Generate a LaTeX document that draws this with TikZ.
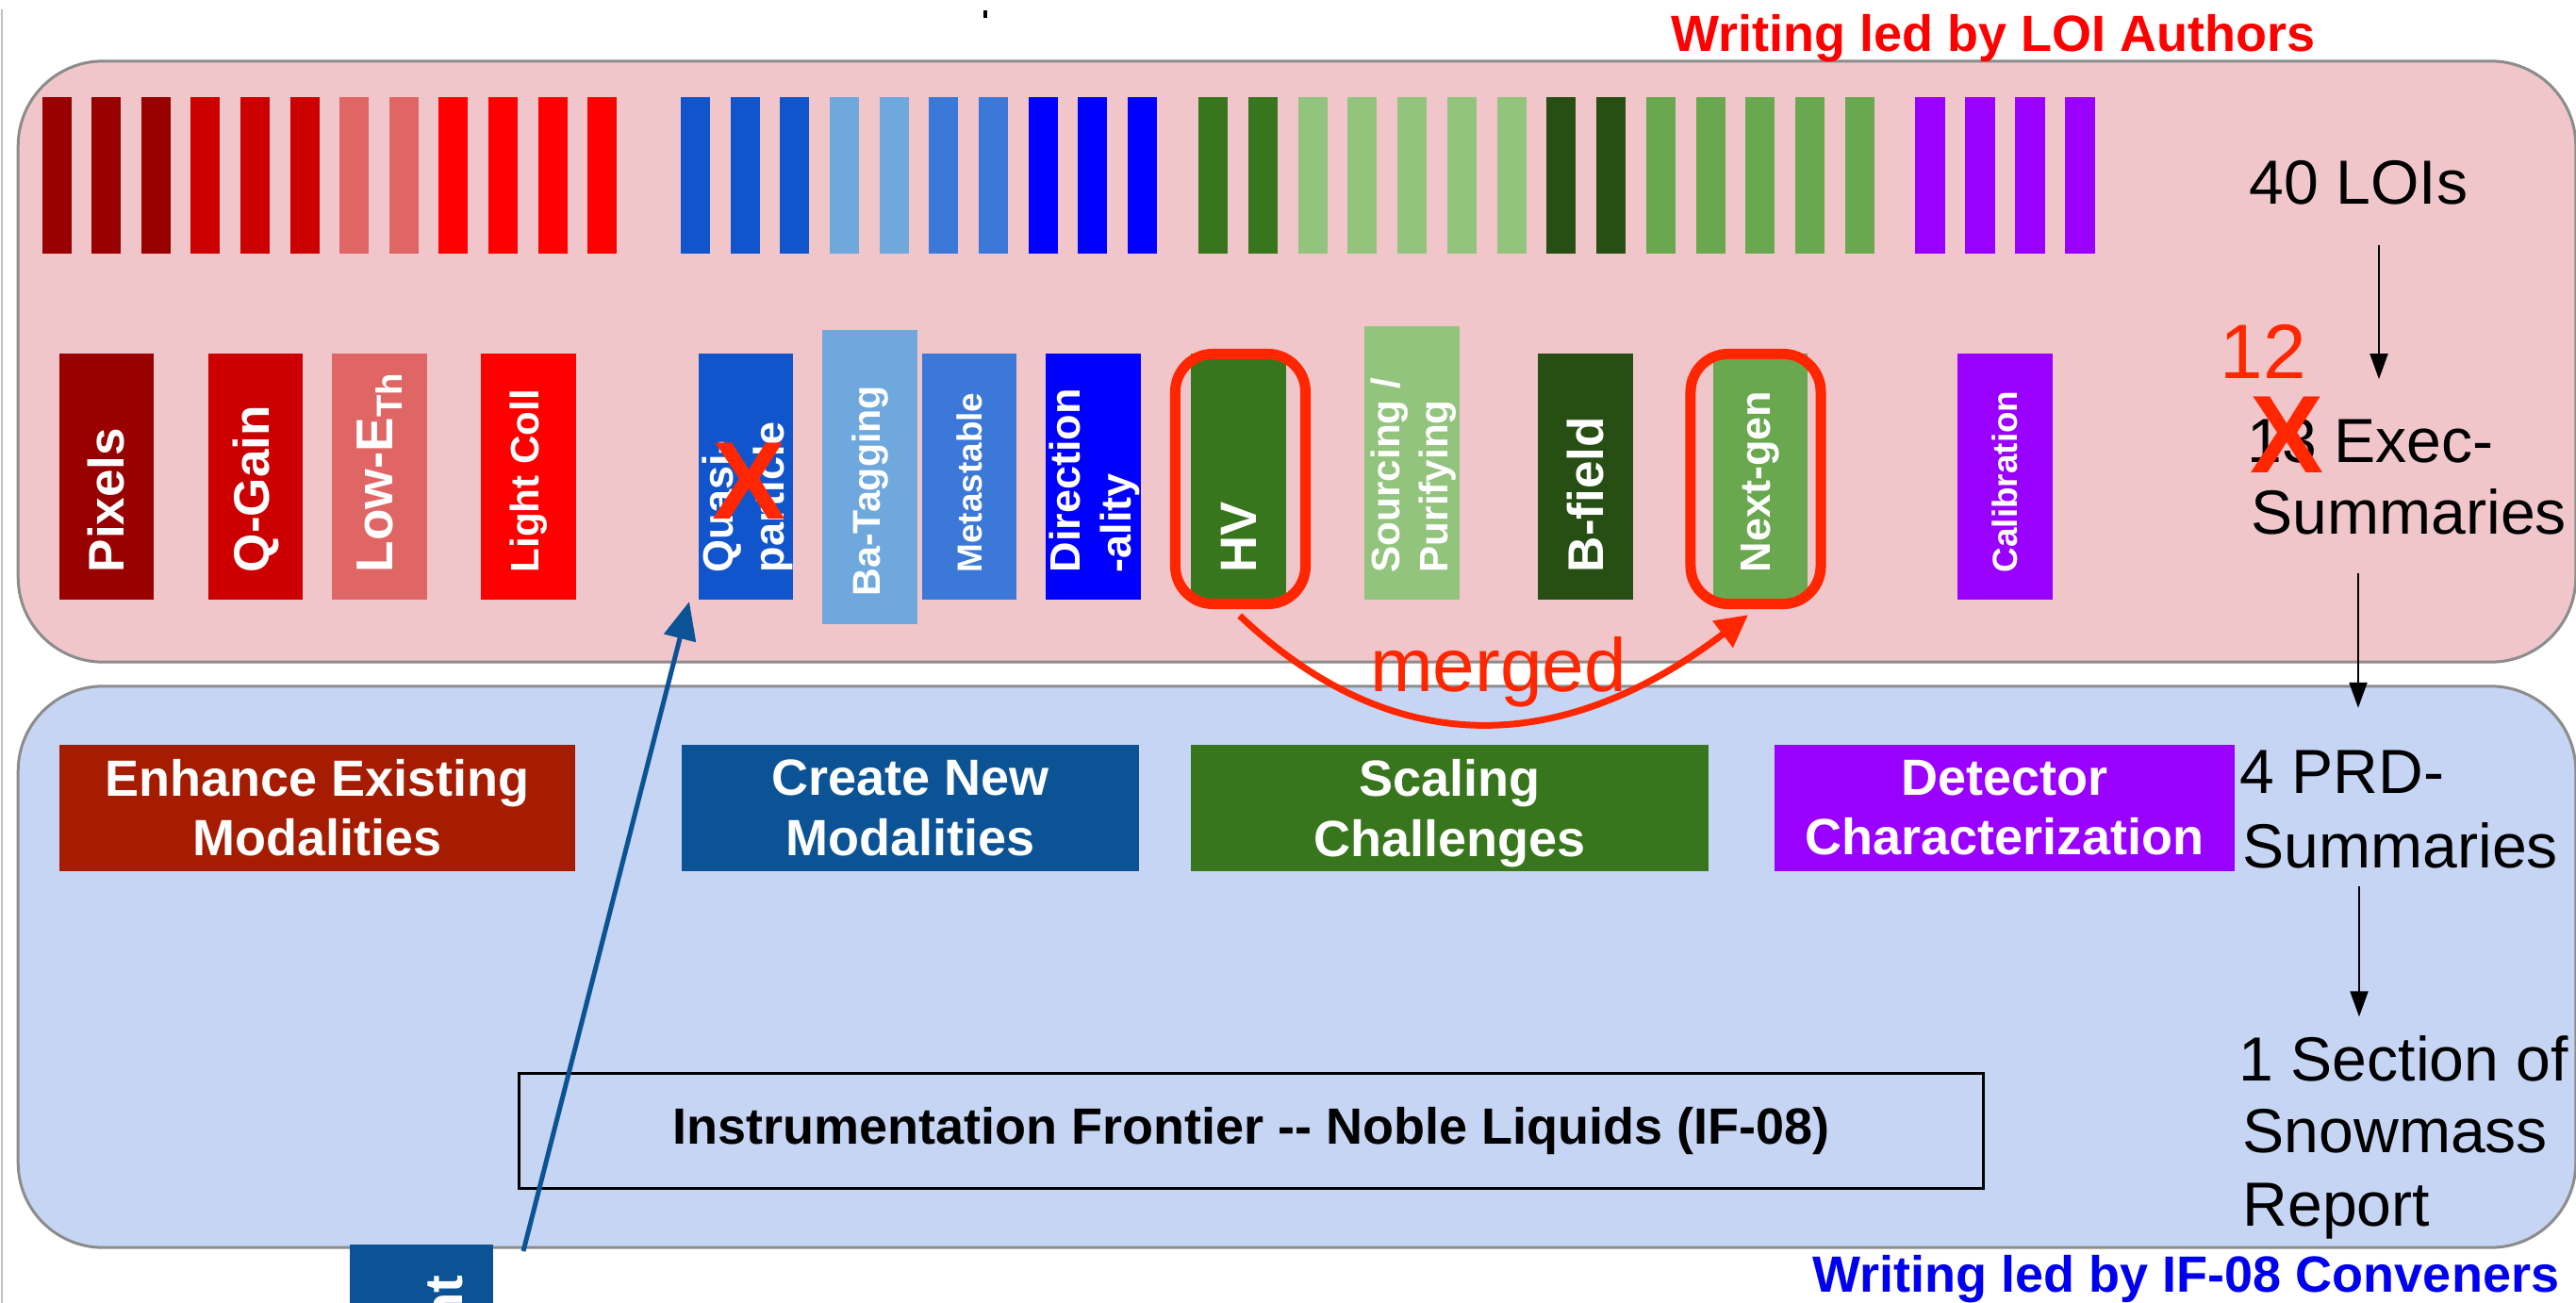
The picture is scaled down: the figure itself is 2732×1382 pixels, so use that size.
\documentclass[tikz,border=0pt]{standalone}
\usepackage{fontspec}
\setmainfont{Liberation Sans}
\usetikzlibrary{arrows.meta}
\definecolor{dred}{HTML}{990000}
\definecolor{mred}{HTML}{CC0000}
\definecolor{lred}{HTML}{E06666}
\definecolor{bred}{HTML}{FF0000}
\definecolor{qblue}{HTML}{1155CC}
\definecolor{lblue}{HTML}{6FA8DC}
\definecolor{mblue}{HTML}{3C78D8}
\definecolor{pblue}{HTML}{0000FF}
\definecolor{hgreen}{HTML}{38761D}
\definecolor{lgreen}{HTML}{93C47D}
\definecolor{dgreen}{HTML}{274E13}
\definecolor{mgreen}{HTML}{6AA84F}
\definecolor{purp}{HTML}{9900FF}
\definecolor{enh}{HTML}{A61C00}
\definecolor{cre}{HTML}{0B5394}
\definecolor{pinkbg}{HTML}{F0C6CB}
\definecolor{bluebg}{HTML}{C6D5F4}
\definecolor{xred}{HTML}{FF2600}
\definecolor{boxgray}{HTML}{8C8C8C}
\definecolor{convblue}{HTML}{0000F0}
\newcommand{\fsz}[2]{\fontsize{#1}{#2}\selectfont}
\newcommand{\nodepth}[1]{\raisebox{0pt}[\height][0pt]{#1}}
\tikzset{
  vbox/.style={minimum width=1cm, minimum height=2.61cm, inner sep=0pt, outer sep=0pt},
  vlab/.style={rotate=90, anchor=west, inner sep=0pt, text=white, align=left,
    font=\bfseries\fontsize{#1pt}{\fpeval{1.2*#1}pt}\selectfont},
  gbox/.style={minimum width=#1, minimum height=1.34cm, inner sep=0pt, text=white,
    align=center, font=\bfseries\fsz{15.36pt}{18pt}},
  rtxt/.style={anchor=base west, inner sep=0pt, font=\fsz{18.8pt}{22pt}},
  blk/.style={line width=0.02cm, -{Triangle[length=0.27cm,width=0.19cm]}},
  ring/.style={draw=xred, line width=0.11cm, rounded corners=0.4cm, minimum width=1.38cm,
    minimum height=2.65cm, inner sep=0pt},
  bigbox/.style={draw=boxgray, line width=0.03cm, rounded corners=0.9cm, minimum width=27.11cm, inner sep=0pt},
  redx/.style={text=xred, inner sep=0pt, font=\bfseries\fsz{33.3pt}{40pt}},
}
\begin{document}
\begin{tikzpicture}[x=0.01cm, y=-0.01cm]
\path[use as bounding box] (0,0) rectangle (2732,1382);
\clip (0,0) rectangle (2732,1382);
\fill[white] (0,0) rectangle (2732,1382);
% left page edge and stray mark
\draw[black!25, line width=0.025cm] (2,10) -- (2,1382);
\fill[black] (1043,11) rectangle (1047,19);

% container boxes
\node[bigbox, fill=pinkbg, minimum height=6.37cm] (pinkbox) at (1375.5,383.5) {};
\node[bigbox, fill=bluebg, minimum height=5.95cm] (bluebox) at (1375.5,1025.5) {};

% titles
\node[anchor=base west, inner sep=0pt, text=bred, font=\bfseries\fsz{15.36pt}{18pt}] (ttop) at (1772,55) {Writing led by LOI Authors};
\node[anchor=base west, inner sep=0pt, text=convblue, font=\bfseries\fsz{15.36pt}{18pt}] (tbot) at (1922,1370) {Writing led by IF-08 Conveners};

% LOI bars
\foreach \i/\c in {0/dred,1/dred,2/dred,3/mred,4/mred,5/mred,6/lred,7/lred,8/bred,9/bred,10/bred,11/bred}
  \fill[\c] ({44.6+52.6*\i},103) rectangle ++(31,166);
\foreach \i/\c in {0/qblue,1/qblue,2/qblue,3/lblue,4/lblue,5/mblue,6/mblue,7/pblue,8/pblue,9/pblue}
  \fill[\c] ({722+52.67*\i},103) rectangle ++(31,166);
\foreach \i/\c in {0/hgreen,1/hgreen,2/lgreen,3/lgreen,4/lgreen,5/lgreen,6/lgreen,7/dgreen,8/dgreen,9/mgreen,10/mgreen,11/mgreen,12/mgreen,13/mgreen}
  \fill[\c] ({1271+52.75*\i},103) rectangle ++(31,166);
\foreach \i in {0,1,2,3}
  \fill[purp] ({2031+53*\i},103) rectangle ++(32,166);

% topic boxes
\node[vbox, fill=dred] (pixels) at (113,505.5) {};
\node[vbox, fill=mred] (qgain) at (271,505.5) {};
\node[vbox, fill=lred] (lowe) at (402.5,505.5) {};
\node[vbox, fill=bred] (light) at (560.5,505.5) {};
\node[vbox, fill=qblue] (quasi) at (791,505.5) {};
\node[vbox, fill=lblue, minimum height=3.12cm] (bat) at (922.5,506) {};
\node[vbox, fill=mblue] (meta) at (1028,505.5) {};
\node[vbox, fill=pblue] (dir) at (1159.5,505.5) {};
\node[vbox, fill=hgreen] (hv) at (1313.5,505.5) {};
\node[vbox, fill=lgreen, minimum height=2.90cm] (sourcing) at (1497.5,491) {};
\node[vbox, fill=dgreen] (bfield) at (1681.5,505.5) {};
\node[vbox, fill=mgreen] (nextgen) at (1867,505.5) {};
\node[vbox, fill=purp] (calib) at (2126.5,505.5) {};

\node[vlab=15.1] (pixelsT) at (113,608) {Pixels};
\node[vlab=15.1] (qgainT) at (271,608) {Q-Gain};
\node[vlab=15.6] (loweT) at (402.5,608) {Low-E\textsubscript{Th}};
\node[vlab=12] (lightT) at (560.5,608) {Light Coll};
\node[vlab=12.8] (quasiT) at (793,608) {Quasi-\\particle};
\node[vlab=11.7] (batT) at (922.5,633) {Ba-Tagging};
\node[vlab=10.5] (metaT) at (1028,608) {Metastable};
\node[vlab=12.8] (dirT) at (1161,608) {Direction\\-ality};
\node[vlab=15.4] (hvT) at (1313.5,608) {HV};
\node[vlab=12] (sourcingT) at (1499,608) {Sourcing /\\Purifying};
\node[vlab=15.1] (bfieldT) at (1681.5,608) {B-field};
\node[vlab=12.8] (nextgenT) at (1867,608) {Next-gen};
\node[vlab=10.5] (calibT) at (2126.5,608) {Calibration};

% PRD groups
\node[gbox=5.47cm, fill=enh] (enhance) at (336.5,857) {Enhance Existing\\Modalities};
\node[gbox=4.85cm, fill=cre] (create) at (965.5,857) {Create New\\Modalities};
\node[gbox=5.49cm, fill=hgreen] (scaling) at (1537.5,857) {Scaling\\\nodepth{Challenges}};
\node[gbox=4.88cm, fill=purp] (detector) at (2126,857) {Detector\\Characterization};

\node[draw=black, line width=0.03cm, minimum width=15.52cm, minimum height=1.21cm, inner sep=0pt,
  font=\bfseries\fsz{15.36pt}{18pt}] (ifbox) at (1327,1199.5) {Instrumentation Frontier -{}- Noble Liquids (IF-08)};

% right column
\node[rtxt] (loi) at (2385,217) {40 LOIs};
\node[rtxt] (exec1) at (2383,491) {13 Exec-};
\node[rtxt] (exec2) at (2387,567) {Summaries};
\node[rtxt] (prd1) at (2375,841) {4 PRD-};
\node[rtxt] (prd2) at (2378,920) {Summaries};
\node[rtxt] (sec1) at (2374,1146) {1 Section of};
\node[rtxt] (sec2) at (2378,1222) {Snowmass};
\node[rtxt] (sec3) at (2378,1300) {Report};
\coordinate (a1) at (2523,0);
\coordinate (a2) at (2501,0);
\coordinate (a3) at (2502,0);
\draw[blk, shorten <=0.42cm, shorten >=0.42cm] (loi.south -| a1) -- (exec1.north -| a1);
\draw[blk, shorten <=0.40cm, shorten >=0.44cm] (exec2.south -| a2) -- (prd1.north -| a2);
\draw[blk, shorten <=0.19cm, shorten >=0.19cm] (prd2.south -| a3) -- (sec1.north -| a3);

% pointer to Quasi-particle
\node[fill=cre, minimum width=1.52cm, minimum height=0.8cm, inner sep=0pt, anchor=north west] (ntbox) at (370,1319) {};
\node[rotate=90, anchor=south east, inner sep=0pt, text=white, font=\bfseries\fsz{16pt}{19pt}] (ntlab) at (492,1352) {nt};
\coordinate (qtail) at (555,1327);
\draw[cre, line width=0.05cm, -{Triangle[length=0.4cm,width=0.34cm]}] (qtail) -- ([xshift=-0.1cm,yshift=-0.02cm]quasi.south west);

% merge annotation
\node[ring] (hvring) at (1315.5,508) {};
\node[ring] (ngring) at (1862,508) {};
\draw[xred, line width=0.07cm, -{Triangle[length=0.34cm,width=0.34cm]}, shorten <=0.1cm, shorten >=0.1cm]
  ([xshift=-0.08cm]hvring.south) .. controls (1480,810) and (1660,800) .. (ngring.south);
\node[anchor=base, inner sep=0pt, text=xred, font=\fsz{22.8pt}{27pt}] (mergedT) at (1589,733) {merged};

% crossings
\node[redx] (xq) at (795,510) {X};
\node[redx] (xe) at (2426,461) {X};
\node[inner sep=0pt, text=xred, font=\fsz{23.3pt}{28pt}] (twelve) at (2400,373) {12};
\end{tikzpicture}
\end{document}
